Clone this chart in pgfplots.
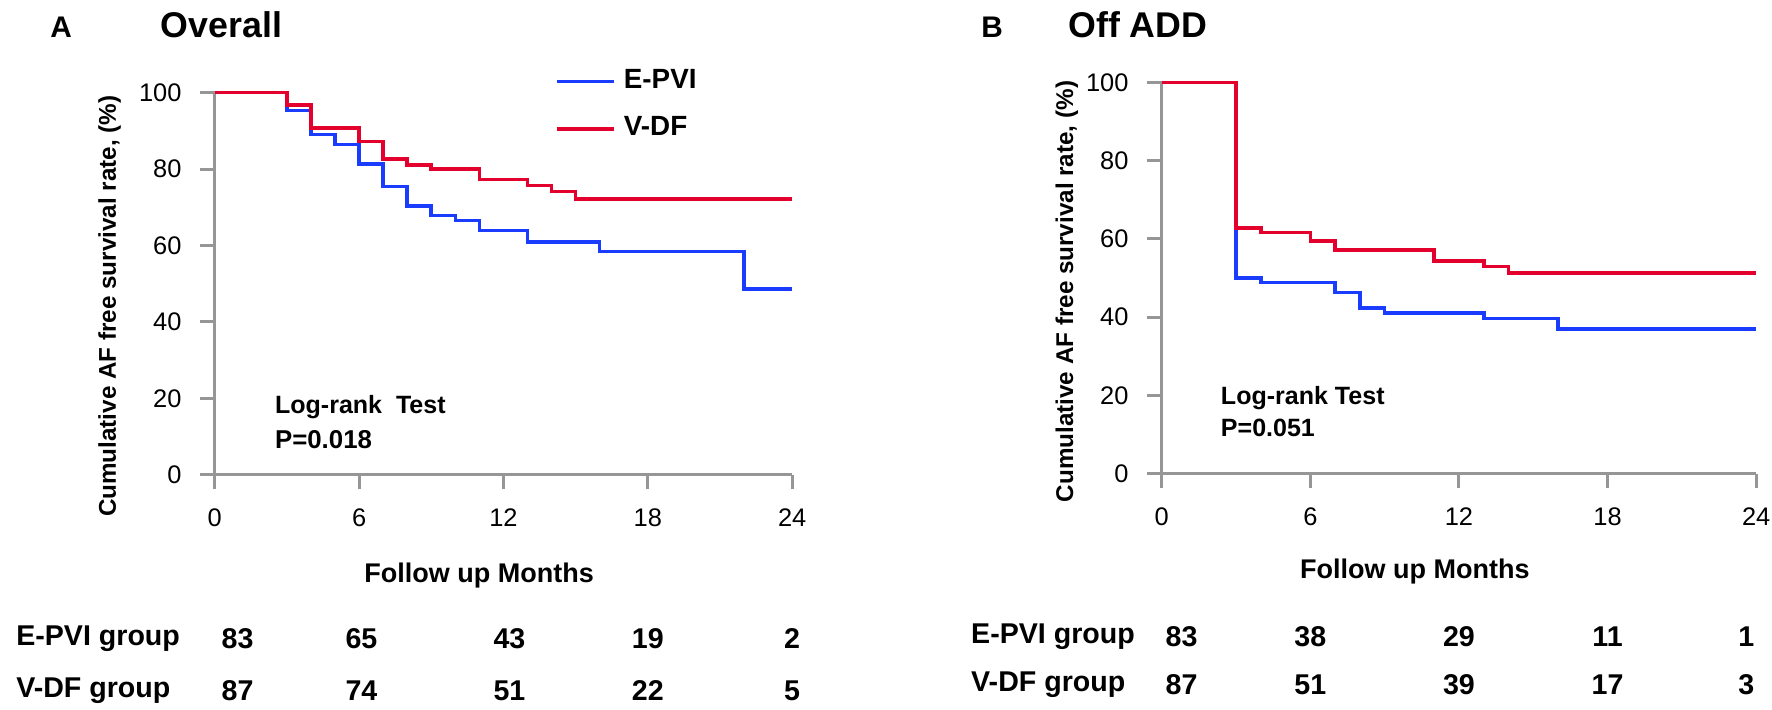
\documentclass[border=0pt]{standalone}
\usepackage{fontspec}
\setmainfont{Liberation Sans}
\usepackage{pgfplots}
\usepackage{pgfplotstable}
\pgfplotsset{compat=1.18}

\definecolor{cblue}{RGB}{25,60,255}
\definecolor{cred}{RGB}{228,0,45}
\definecolor{axgray}{RGB}{150,150,150}

% Kaplan-Meier steps, month / survival (%)
\pgfplotstableread{
m s
0 100
3 95.3
4 89.0
5 86.4
6 81.3
7 75.4
8 70.3
9 67.9
10 66.5
11 63.9
13 60.9
16 58.4
22 48.6
24 48.6
}\epviA
\pgfplotstableread{
m s
0 100
3 96.7
4 90.8
6 87.2
7 82.6
8 81.1
9 80.0
11 77.3
13 75.7
14 74.1
15 72.2
24 72.2
}\vdfA
\pgfplotstableread{
m s
0 100
3 50.0
4 48.9
7 46.3
8 42.4
9 41.0
13 39.6
16 37.0
24 37.0
}\epviB
\pgfplotstableread{
m s
0 100
3 62.8
4 61.6
6 59.4
7 57.2
11 54.4
13 52.9
14 51.3
24 51.3
}\vdfB

\tikzset{risk/.style={font=\bfseries\fontsize{7.2}{8}\selectfont}}

\pgfplotsset{
  km/.style={
    scale only axis, anchor=south west,
    xmin=0, xmax=24, ymin=0, ymax=100,
    xtick={0,6,12,18,24}, ytick={0,20,40,60,80,100},
    axis x line=bottom, axis y line=left,
    axis line style={-, draw=axgray, line width=0.75pt},
    tick align=outside, major tick length=1.3mm,
    tick style={draw=axgray, line width=0.75pt},
    ticklabel style={font=\fontsize{6.4}{7}\selectfont},
    xticklabel style={yshift=-0.5mm},
    yticklabel style={xshift=-0.4mm},
    /pgf/number format/assume math mode=true,
    clip=false,
    every axis plot/.append style={const plot, line width=0.9pt},
  },
}

\begin{document}
\begin{tikzpicture}[x=0.1mm, y=0.1mm]
\path[use as bounding box] (0,0) rectangle (1568,628);
\coordinate (oA) at (190,208);
\coordinate (oB) at (1028,209);

% ---------- panel A ----------
\begin{axis}[km, at={(oA)}, width=51.1mm, height=33.8mm,
  legend style={draw=none, fill=none, at={(axis cs:14.1,108.5)}, anchor=north west,
    font=\bfseries\fontsize{7}{8}\selectfont, row sep=0.6mm, inner sep=0pt,
    cells={anchor=west}},
  legend image code/.code={\draw[#1] (0mm,0mm) -- (5.1mm,0mm);},
]
\addplot[cblue] table[x=m, y=s] {\epviA};
\addlegendentry{E-PVI}
\addplot[cred] table[x=m, y=s] {\vdfA};
\addlegendentry{V-DF}
\node[risk] at (axis cs:0.95,-42.9) {83};
\node[risk] at (axis cs:6.1,-42.9) {65};
\node[risk] at (axis cs:12.25,-42.9) {43};
\node[risk] at (axis cs:18,-42.9) {19};
\node[risk] at (axis cs:24,-42.9) {2};
\node[risk] at (axis cs:0.95,-56.5) {87};
\node[risk] at (axis cs:6.1,-56.5) {74};
\node[risk] at (axis cs:12.25,-56.5) {51};
\node[risk] at (axis cs:18,-56.5) {22};
\node[risk] at (axis cs:24,-56.5) {5};
\end{axis}

\node[font=\bfseries\fontsize{7.5}{9}\selectfont] at (54,604) {A};
\node[anchor=west, font=\bfseries\fontsize{9}{10}\selectfont] at (130,606) {Overall};
\node[rotate=90, font=\bfseries\fontsize{6.1}{7}\selectfont] at (97,357) {Cumulative AF free survival rate, (\%)};
\node[font=\bfseries\fontsize{6.8}{8}\selectfont] at (424,119) {Follow up Months};
\node[anchor=west, font=\bfseries\fontsize{6.3}{7}\selectfont] at (231,268) {Log-rank\ \ Test};
\node[anchor=west, font=\bfseries\fontsize{6.5}{7}\selectfont] at (231,239) {P=0.018};
\node[anchor=west, risk] at (2,63) {E-PVI group};
\node[anchor=west, risk] at (2,17) {V-DF group};

% ---------- panel B ----------
\begin{axis}[km, at={(oB)}, width=52.6mm, height=34.6mm]
\addplot[cblue] table[x=m, y=s] {\epviB};
\addplot[cred] table[x=m, y=s] {\vdfB};
\node[risk] at (axis cs:0.8,-41.6) {83};
\node[risk] at (axis cs:6,-41.6) {38};
\node[risk] at (axis cs:12,-41.6) {29};
\node[risk] at (axis cs:18,-41.6) {11};
\node[risk] at (axis cs:23.6,-41.6) {1};
\node[risk] at (axis cs:0.8,-54) {87};
\node[risk] at (axis cs:6,-54) {51};
\node[risk] at (axis cs:12,-54) {39};
\node[risk] at (axis cs:18,-54) {17};
\node[risk] at (axis cs:23.6,-54) {3};
\end{axis}

\node[font=\bfseries\fontsize{7.5}{9}\selectfont] at (878,604) {B};
\node[anchor=west, font=\bfseries\fontsize{9}{10}\selectfont] at (933,606) {Off ADD};
\node[rotate=90, font=\bfseries\fontsize{6.1}{7}\selectfont] at (944,370) {Cumulative AF free survival rate, (\%)};
\node[font=\bfseries\fontsize{6.8}{8}\selectfont] at (1252,122) {Follow up Months};
\node[anchor=west, font=\bfseries\fontsize{6.3}{7}\selectfont] at (1068,276) {Log-rank Test};
\node[anchor=west, font=\bfseries\fontsize{6.3}{7}\selectfont] at (1068,249) {P=0.051};
\node[anchor=west, risk] at (847,65) {E-PVI group};
\node[anchor=west, risk] at (847,22) {V-DF group};
\end{tikzpicture}
\end{document}
